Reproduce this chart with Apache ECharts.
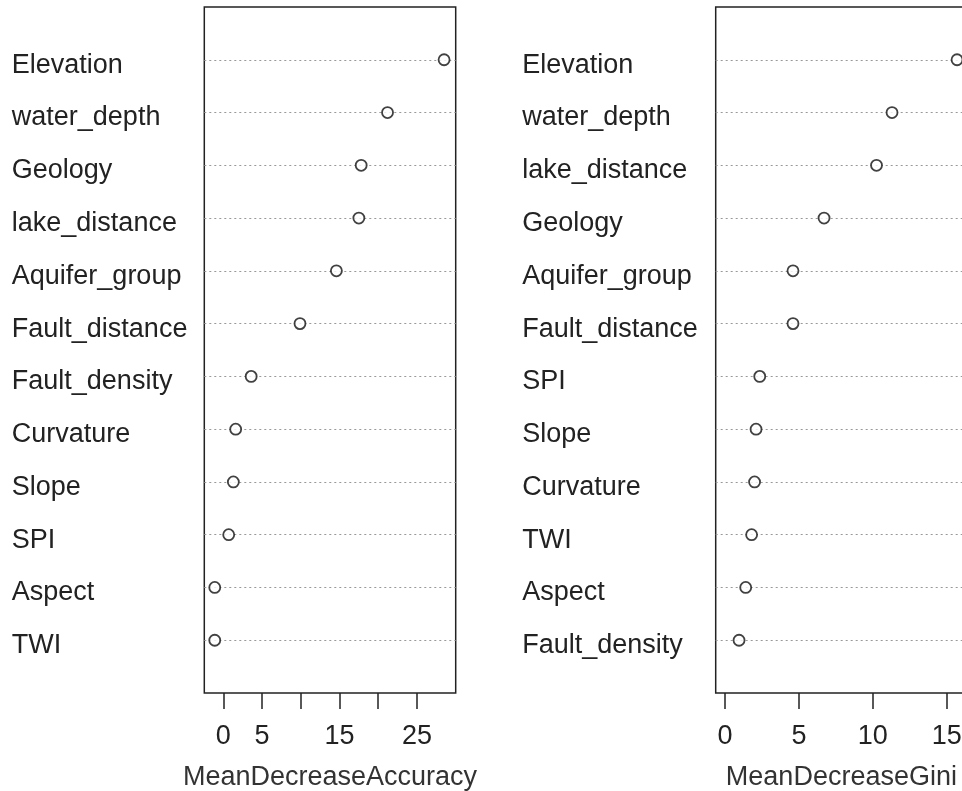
<!DOCTYPE html>
<html>
<head>
<meta charset="utf-8">
<script src="https://cdn.jsdelivr.net/npm/echarts@6/dist/echarts.min.js"></script>
<style>
html,body{margin:0;padding:0;background:#fff;}
#chart{width:962px;height:791px;}
</style>
</head>
<body>
<div id="chart"></div>
<script>
// Left panel: MeanDecreaseAccuracy (top to bottom)
var accNames = ['Elevation','water_depth','Geology','lake_distance','Aquifer_group','Fault_distance','Fault_density','Curvature','Slope','SPI','Aspect','TWI'];
var accValues = [28.5, 21.2, 17.8, 17.5, 14.6, 9.9, 3.6, 1.6, 1.3, 0.7, -1.1, -1.1];
var accTicks = [0, 5, 10, 15, 20, 25];
var accTickLabels = [0, 5, 15, 25];

// Right panel: MeanDecreaseGini (top to bottom)
var giniNames = ['Elevation','water_depth','lake_distance','Geology','Aquifer_group','Fault_distance','SPI','Slope','Curvature','TWI','Aspect','Fault_density'];
var giniValues = [15.7, 11.3, 10.25, 6.7, 4.6, 4.6, 2.35, 2.1, 2.0, 1.8, 1.4, 0.95];
var giniTicks = [0, 5, 10, 15];
var giniTickLabels = [0, 5, 10, 15];

var FONT = '"Liberation Sans", Arial, sans-serif';
var TXT = '#222';
var FS = 27;

function cats(names) {
  // bottom-to-top, padded with blank slots so rows sit at 1..n within 0..n+1
  return [''].concat(names.slice().reverse()).concat(['']);
}
function pts(names, vals) {
  return names.map(function (n, i) { return [vals[i], n]; });
}

function xAxisFor(gi, min, max, ticks, labels, name) {
  return {
    gridIndex: gi, type: 'value', min: min, max: max,
    axisLine: { show: false },
    splitLine: { show: false },
    axisTick: { show: true, customValues: ticks, length: 16, lineStyle: { color: TXT, width: 1.5 } },
    axisLabel: { customValues: labels, margin: 30.5, fontSize: FS, color: TXT, fontFamily: FONT },
    name: name, nameLocation: 'middle', nameGap: 71,
    nameTextStyle: { fontSize: FS, color: '#333', fontFamily: FONT }
  };
}
function yAxisFor(gi, names, margin) {
  return {
    gridIndex: gi, type: 'category', data: cats(names), boundaryGap: false,
    axisLine: { show: false }, axisTick: { show: false },
    axisLabel: { interval: 0, align: 'left', margin: margin, fontSize: FS, color: TXT, fontFamily: FONT,
                 verticalAlign: 'top', lineHeight: 11 },
    splitLine: {
      show: true,
      interval: function (idx, val) { return val !== ''; },
      lineStyle: { color: '#999', type: [2, 3], width: 1 }
    }
  };
}
function seriesFor(i, names, vals) {
  return {
    type: 'scatter', xAxisIndex: i, yAxisIndex: i,
    data: pts(names, vals),
    symbol: 'circle', symbolSize: 11,
    itemStyle: { color: '#fff', borderColor: '#111', borderWidth: 1.8 },
    z: 5
  };
}

var chart = echarts.init(document.getElementById('chart'), null, { renderer: 'canvas' });
chart.setOption({
  backgroundColor: '#fff',
  animation: false,
  grid: [
    { left: 204.3, top: 7, width: 251.4, height: 686, show: true, borderColor: '#222', borderWidth: 1.5,
      backgroundColor: 'transparent', outerBoundsMode: 'none', containLabel: false },
    { left: 715.7, top: 7, width: 251.4, height: 686, show: true, borderColor: '#222', borderWidth: 1.5,
      backgroundColor: 'transparent', outerBoundsMode: 'none', containLabel: false }
  ],
  xAxis: [
    xAxisFor(0, -2.45, 30.0, accTicks, accTickLabels, 'MeanDecreaseAccuracy'),
    xAxisFor(1, -0.63, 16.38, giniTicks, giniTickLabels, 'MeanDecreaseGini')
  ],
  yAxis: [
    yAxisFor(0, accNames, 192.5),
    yAxisFor(1, giniNames, 193.5)
  ],
  series: [
    seriesFor(0, accNames, accValues),
    seriesFor(1, giniNames, giniValues)
  ]
});
</script>
</body>
</html>
